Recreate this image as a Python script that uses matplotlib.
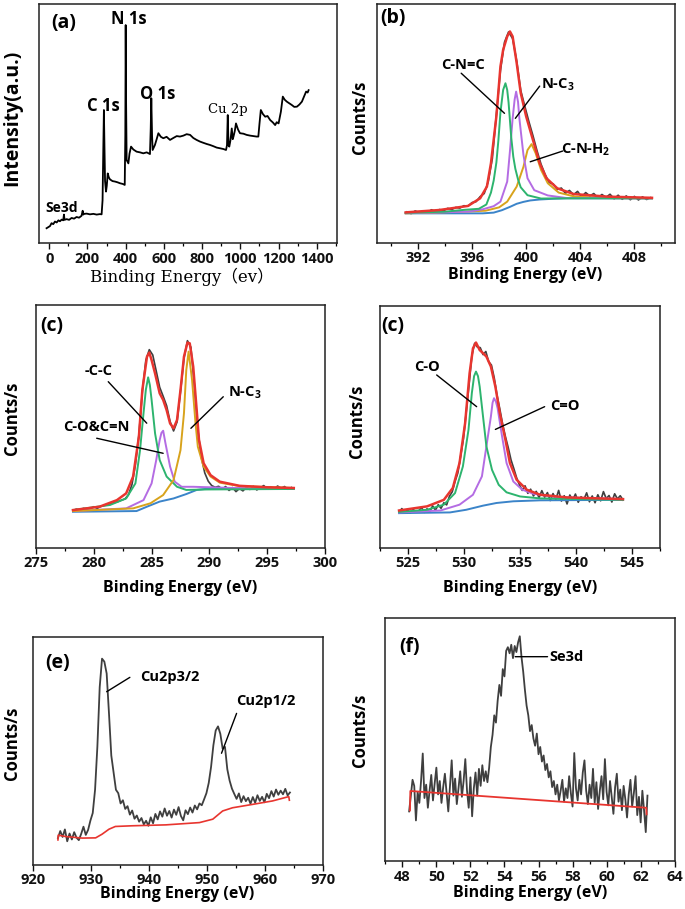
import numpy as np
import matplotlib
matplotlib.use('Agg')
import matplotlib.pyplot as plt
from matplotlib.ticker import MultipleLocator

plt.rcParams['font.family'] = ['Open Sans', 'DejaVu Sans']
plt.rcParams['font.weight'] = 'bold'
plt.rcParams['mathtext.fontset'] = 'custom'
plt.rcParams['mathtext.bf'] = 'Open Sans:bold'
plt.rcParams['mathtext.rm'] = 'Open Sans:bold'
plt.rcParams['mathtext.default'] = 'bf'

# ---------------- (a) survey spectrum ----------------
survey_ev = [-14, 4, 12, 21, 30, 39, 48, 56, 65, 73, 77, 80, 91, 104, 117, 130, 143, 156, 169, 175,
             178, 182, 196, 213, 231, 248, 265, 274, 279, 283, 286, 289, 292, 297, 301, 306, 312, 318,
             331, 344, 357, 370, 385, 395, 398, 400, 402, 405, 414, 420, 428, 440, 457, 475, 492, 510,
             527, 531, 534, 538, 541, 553, 562, 571, 584, 597, 614, 632, 649, 667, 684, 702, 719, 737,
             754, 771, 789, 806, 824, 841, 858, 876, 894, 911, 925, 930, 934, 938, 942, 948, 955, 960,
             964, 971, 977, 988, 998, 1016, 1033, 1051, 1068, 1085, 1094, 1100, 1107, 1118, 1130, 1142,
             1156, 1170, 1182, 1190, 1200, 1212, 1222, 1232, 1243, 1256, 1269, 1282, 1296, 1309, 1322,
             1334, 1344, 1352, 1357]
survey_int = [6.3, 7.2, 8.4, 8.0, 9.1, 8.7, 9.6, 9.2, 9.9, 9.6, 12.0, 9.8, 10.1, 9.8, 10.6, 10.3, 11.0,
              10.7, 11.5, 13.6, 12.0, 12.3, 12.4, 12.1, 12.3, 12.0, 12.2, 12.1, 18.0, 40.0, 55.7, 40.0,
              26.0, 21.6, 24.0, 29.2, 27.5, 26.7, 26.0, 25.8, 25.5, 25.1, 24.8, 24.4, 45.0, 91.2, 60.0,
              34.8, 33.4, 37.5, 40.4, 39.2, 38.3, 38.0, 37.6, 38.0, 37.3, 48.0, 60.6, 45.0, 39.0, 41.1,
              43.5, 46.0, 44.5, 43.9, 44.5, 43.2, 44.0, 44.8, 44.6, 45.0, 45.6, 45.3, 44.0, 43.2, 42.5,
              42.0, 41.5, 41.1, 40.6, 40.0, 39.7, 39.4, 39.0, 41.0, 53.6, 41.0, 40.4, 43.0, 48.0, 43.5,
              44.6, 47.0, 50.1, 47.5, 46.0, 45.8, 45.3, 45.0, 44.8, 44.6, 44.6, 50.0, 55.7, 54.0, 52.9,
              53.2, 51.5, 50.5, 49.4, 50.6, 50.1, 55.0, 61.3, 60.0, 59.2, 58.5, 57.8, 57.0, 57.1, 58.0,
              59.2, 61.5, 63.4, 63.0, 64.0]

# ---------------- (b) N 1s ----------------
n1s_raw = [12.9, 12.2, 13.3, 12.6, 13.0, 12.5, 13.8, 13.1, 13.9, 13.4, 14.4, 13.9, 14.8, 14.5, 15.5,
           15.3, 16.8, 17.2, 19.3, 20.6, 25.6, 35.2, 53.8, 72.1, 84.0, 88.3, 85.5, 76.2, 63.8, 57.2,
           50.8, 44.9, 38.6, 32.9, 28.6, 25.2, 24.6, 22.3, 22.9, 20.7, 21.9, 20.1, 21.5, 19.2, 21.0,
           19.6, 20.6, 18.8, 20.2, 19.0, 20.3, 18.4, 19.9, 18.2, 19.6, 18.0, 19.4, 17.9, 19.2, 18.1, 18.9]
n1s_raw_ev = np.linspace(391.2, 409.2, len(n1s_raw))
n1s_env_ev = [391.1, 393.6, 395.7, 396.6, 397.1, 397.4, 397.8, 398.1, 398.3, 398.6, 398.8, 399.0,
              399.3, 399.6, 400.0, 400.5, 401.0, 401.5, 402.3, 403.5, 406.0, 409.3]
n1s_env = [12.7, 13.7, 15.4, 18.6, 23.5, 33.3, 52.9, 73.8, 80.8, 86.4, 88.5, 86.4, 75.3, 62.7, 52.9,
           43.1, 33.3, 27.0, 22.8, 20.4, 19.3, 18.8]
n1s_bg_ev = [391.1, 396.8, 397.6, 398.2, 398.8, 399.3, 399.8, 400.3, 401.0, 402.0, 403.0, 405.0, 409.3]
n1s_bg = [12.3, 12.3, 12.6, 13.6, 15.0, 16.3, 17.1, 17.7, 18.1, 18.4, 18.6, 18.6, 18.6]
cnc_ev = [391.1, 394.0, 395.5, 396.5, 397.06, 397.4, 397.6, 397.8, 397.95, 398.1, 398.3, 398.47,
          398.6, 398.7, 398.9, 399.05, 399.2, 399.4, 399.6, 400.1, 401.1, 403.0, 409.3]
cnc = [12.5, 13.0, 13.8, 14.2, 16.0, 21.0, 26.0, 33.6, 43.0, 54.6, 64.0, 66.8, 64.0, 58.8, 44.0, 36.0,
       31.0, 26.5, 23.2, 19.9, 18.5, 18.6, 18.6]
nc3_ev = [391.1, 395.7, 396.8, 397.6, 398.1, 398.6, 398.8, 399.0, 399.15, 399.26, 399.4, 399.5,
          399.8, 400.1, 400.6, 401.6, 403.0, 409.3]
nc3 = [12.4, 13.0, 14.0, 15.3, 17.2, 25.6, 38.2, 52.0, 60.0, 63.3, 59.0, 52.0, 36.8, 27.0, 22.0,
       19.8, 18.7, 18.6]
cnh2_ev = [391.1, 394.9, 397.0, 398.0, 398.6, 399.3, 399.8, 400.1, 400.4, 400.7, 401.1, 401.6, 402.4,
           403.6, 406.1, 409.3]
cnh2 = [12.3, 12.9, 13.4, 14.8, 17.2, 23.5, 31.8, 38.8, 41.3, 37.5, 30.5, 24.9, 21.0, 19.3, 18.7, 18.6]

# ---------------- (c) C 1s ----------------
c1s_raw = [15.2, 15.9, 15.3, 16.2, 15.8, 16.1, 16.9, 16.2, 17.0, 17.4, 17.6, 18.4, 18.6, 19.0, 19.6,
           20.1, 21.8, 26.0, 34.2, 46.5, 64.3, 77.2, 81.6, 79.4, 72.8, 66.1, 62.4, 58.5, 52.0, 48.1,
           51.8, 64.2, 78.0, 85.3, 82.6, 67.1, 48.7, 37.2, 30.8, 27.4, 25.6, 24.9, 25.3, 24.1, 25.2,
           23.6, 24.8, 23.1, 24.4, 23.4, 24.9, 24.0, 25.3, 23.8, 24.7, 25.6, 24.2, 25.1, 24.3, 25.4,
           24.5, 25.2, 24.1, 24.8]
c1s_raw_ev = np.linspace(278.2, 297.1, len(c1s_raw))
c1s_env_ev = [278.2, 280.5, 282.0, 282.8, 283.4, 283.9, 284.2, 284.6, 284.8, 285.0, 285.3, 285.7,
              286.0, 286.3, 286.6, 286.9, 287.2, 287.5, 287.8, 288.1, 288.3, 288.6, 288.9, 289.1,
              289.5, 290.1, 290.9, 292.6, 295.0, 297.3]
c1s_env = [15.5, 16.9, 19.6, 22.4, 29.3, 45.7, 65.0, 78.7, 80.4, 77.3, 71.8, 63.6, 60.9, 56.7, 51.2,
           49.2, 52.6, 65.0, 78.7, 84.5, 84.2, 74.6, 56.7, 44.4, 34.8, 29.9, 27.2, 25.5, 24.9, 24.6]
c1s_bg_ev = [278.2, 283.7, 284.6, 285.7, 286.9, 288.0, 288.9, 289.8, 292.1, 297.3]
c1s_bg = [14.8, 15.1, 16.9, 19.0, 20.3, 22.1, 23.8, 24.3, 24.3, 24.2]
cc_ev = [278.2, 281.4, 282.8, 283.6, 284.0, 284.3, 284.5, 284.7, 284.85, 285.0, 285.3, 285.7, 286.3,
         287.2, 288.0, 289.8, 297.3]
cc = [15.5, 17.6, 20.3, 26.5, 40.2, 55.4, 65.0, 70.2, 67.0, 60.9, 47.1, 36.1, 29.3, 25.1, 23.8, 24.0,
      24.2]
co_cn_ev = [278.2, 282.8, 284.3, 285.0, 285.4, 285.7, 285.85, 286.0, 286.2, 286.6, 287.0, 287.6,
            288.6, 292.1, 297.3]
co_cn = [15.1, 16.2, 19.6, 26.5, 36.1, 44.4, 47.3, 48.2, 43.0, 33.4, 27.2, 25.1, 25.1, 24.6, 24.3]
c_nc3_ev = [278.2, 283.4, 284.9, 286.0, 286.9, 287.5, 287.8, 288.0, 288.2, 288.5, 288.8, 289.0,
            289.5, 290.1, 290.9, 292.6, 297.3]
c_nc3 = [15.1, 16.2, 18.3, 21.7, 27.9, 40.2, 55.4, 73.2, 80.8, 69.1, 51.2, 41.6, 33.4, 29.3, 26.8,
         25.4, 24.6]

# ---------------- (d) O 1s ----------------
o1s_raw = [14.8, 16.3, 14.6, 15.9, 14.4, 16.0, 14.9, 15.3, 16.8, 14.7, 16.2, 15.1, 17.4, 15.6, 17.9,
           16.4, 18.7, 17.8, 21.4, 23.2, 27.5, 31.0, 37.9, 45.1, 56.2, 67.3, 79.4, 84.6, 83.0, 82.8,
           79.9, 81.2, 77.0, 75.6, 70.3, 63.1, 57.4, 51.2, 46.0, 41.5, 36.4, 32.8, 29.0, 26.1, 23.8,
           25.7, 22.6, 24.3, 21.5, 23.4, 20.8, 23.7, 21.0, 22.9, 19.6, 22.5, 20.1, 23.8, 19.4, 21.6,
           18.2, 21.9, 19.8, 22.3, 18.9, 21.2, 20.0, 22.8, 19.1, 21.5, 18.7, 22.0, 19.5, 23.3, 20.4,
           21.7, 19.0, 22.4, 20.3, 21.6, 19.8]
o1s_raw_ev = np.linspace(524.2, 544.2, len(o1s_raw))
o1s_env_ev = [524.2, 526.7, 528.2, 529.0, 529.6, 530.1, 530.5, 530.8, 531.07, 531.4, 531.7, 532.0,
              532.4, 532.8, 533.2, 533.7, 534.1, 534.7, 535.6, 536.8, 539.2, 544.2]
o1s_env = [15.5, 17.2, 19.9, 24.8, 35.1, 51.6, 72.2, 82.5, 84.9, 81.8, 80.5, 79.1, 75.0, 66.7, 55.7,
           44.7, 35.1, 28.2, 24.1, 22.0, 20.9, 20.2]
o1s_bg_ev = [524.2, 528.75, 530.2, 531.7, 532.9, 534.4, 536.8, 544.2]
o1s_bg = [14.4, 14.7, 15.8, 17.5, 18.6, 19.3, 19.7, 19.9]
c_o_ev = [524.2, 526.7, 528.2, 529.2, 529.9, 530.4, 530.7, 530.9, 531.07, 531.25, 531.4, 531.7,
          532.0, 532.5, 533.1, 533.8, 535.0, 536.8, 544.2]
c_o = [14.9, 15.8, 17.9, 22.7, 33.7, 48.8, 64.0, 71.0, 72.9, 71.0, 66.7, 54.3, 42.0, 32.3, 26.1,
       23.0, 21.3, 20.5, 19.9]
c_do_ev = [524.2, 527.9, 529.6, 530.8, 531.6, 532.0, 532.4, 532.55, 532.68, 532.85, 533.0, 533.4,
           533.8, 534.4, 535.2, 536.2, 538.3, 544.2]
c_do = [14.7, 15.5, 17.9, 22.0, 29.6, 42.0, 54.3, 60.0, 61.9, 60.5, 57.8, 46.1, 35.1, 27.5, 24.1,
        22.4, 21.0, 20.2]

# ---------------- (e) Cu 2p ----------------
cu_raw = [11.8, 14.9, 12.3, 15.6, 10.4, 13.8, 11.2, 14.4, 12.0, 10.9, 13.6, 16.8, 13.2, 15.4, 19.5,
          22.8, 33.0, 52.0, 78.0, 90.5, 89.2, 84.0, 66.5, 48.0, 40.5, 33.0, 31.5, 27.0, 28.4, 24.6,
          25.8, 22.1, 23.9, 20.3, 21.7, 19.0, 20.6, 17.8, 19.4, 17.2, 20.9, 18.3, 22.4, 20.0, 23.5,
          21.2, 24.8, 21.6, 23.7, 20.8, 24.3, 22.0, 25.4, 21.5, 19.6, 24.0, 22.3, 25.2, 23.0, 26.1,
          24.4, 27.0, 26.2, 28.8, 31.5, 36.0, 43.0, 52.5, 59.0, 60.8, 57.5, 51.0, 51.8, 42.0, 37.0,
          33.5, 31.2, 29.0, 31.4, 27.6, 30.2, 28.0, 29.5, 26.9, 29.8, 27.3, 30.6, 28.1, 29.9, 27.5,
          31.2, 29.3, 32.4, 30.0, 33.1, 30.8, 32.6, 31.0, 33.4, 30.5, 31.8]
cu_raw_ev = np.linspace(924.3, 964.3, len(cu_raw))
cu_bg_ev = [924.3, 924.35, 925.6, 928.5, 930.8, 931.9, 933.1, 934.2, 937.1, 942.9, 948.7, 951.0,
            952.7, 954.4, 957.9, 961.3, 964.1, 964.2]
cu_bg = [11.0, 13.1, 12.5, 11.8, 11.9, 13.5, 15.7, 16.9, 17.2, 17.6, 18.6, 20.1, 23.7, 25.1, 26.6,
         28.1, 30.0, 28.4]

# ---------------- (f) Se 3d ----------------
se_raw = [20.5, 27.0, 33.5, 31.0, 16.8, 28.5, 24.0, 33.0, 44.3, 26.0, 31.5, 22.0, 29.0, 35.5, 25.0,
          32.0, 38.5, 27.5, 33.0, 24.0, 30.5, 36.0, 28.0, 20.5, 31.0, 41.5, 27.0, 34.0, 23.5, 30.0,
          37.0, 26.5, 33.0, 42.0, 29.0, 22.0, 34.5, 18.5, 30.0, 36.5, 27.0, 38.0, 31.0, 39.5, 33.0,
          37.0, 32.5, 38.5, 47.0, 52.0, 60.0, 57.0, 66.0, 72.5, 68.0, 79.0, 76.0, 86.5, 88.0, 85.5,
          89.0, 83.5, 88.5, 86.0, 90.0, 92.5, 84.0, 78.0, 70.5, 64.0, 60.0, 53.5, 56.0, 50.5, 47.5,
          52.5, 44.0, 47.0, 41.0, 43.5, 37.5, 40.0, 34.5, 37.0, 30.5, 33.0, 27.5, 31.5, 25.0, 29.0,
          33.5, 24.5, 30.0, 26.0, 35.0, 28.0, 22.5, 44.5, 30.0, 25.0, 33.5, 27.5, 36.5, 41.5, 29.0,
          23.5, 31.5, 26.0, 38.0, 24.0, 32.5, 21.5, 29.0, 35.0, 25.5, 42.0, 28.5, 23.0, 33.0, 26.5,
          19.5, 30.5, 36.0, 24.5, 29.5, 21.0, 31.0, 25.5, 18.0, 27.5, 33.5, 22.5, 28.0, 35.0, 19.0,
          26.5, 16.0, 29.0, 21.0, 12.0, 27.0]
se_raw_ev = np.linspace(48.4, 62.4, len(se_raw))
se_bg_ev = [48.45, 48.47, 62.33, 62.35]
se_bg = [20.9, 28.9, 22.0, 19.3]

GRAY = '#3f3f3f'
RED = '#e8352f'
GREEN = '#2db46e'
PURPLE = '#b46ce3'
ORANGE = '#d8a31c'
BLUE = '#3b84c9'

W, H = 685, 909
fig = plt.figure(figsize=(W / 100, H / 100), dpi=100)


def px_axes(l, t, r, b):
    return fig.add_axes([l / W, 1 - b / H, (r - l) / W, (b - t) / H])


def style(ax, xlim, major, minor):
    ax.set_xlim(*xlim)
    ax.set_ylim(0, 100)
    ax.set_yticks([])
    ax.xaxis.set_major_locator(MultipleLocator(major))
    ax.xaxis.set_minor_locator(MultipleLocator(minor))
    ax.tick_params(axis='x', which='major', direction='out', length=4, width=1.0, pad=2.0,
                   labelsize=10.5, colors='#111111')
    ax.tick_params(axis='x', which='minor', direction='out', length=2.4, width=0.9)
    for s in ax.spines.values():
        s.set_linewidth(1.1)
        s.set_color('#222222')


def ftext(x, y, s, **kw):
    fig.text(x / W, 1 - y / H, s, ha='center', va='center', **kw)


def leader(ax, p0, p1):
    ax.annotate('', xy=p1, xytext=p0, arrowprops=dict(arrowstyle='-', lw=1.0, color='k',
                                                      shrinkA=0, shrinkB=0))


# (a)
ax_a = px_axes(39.3, 4, 336.7, 243.3)
style(ax_a, (-52, 1504), 200, 100)
ax_a.plot(survey_ev, survey_int, color='k', lw=1.3)
ax_a.text(0.083, 0.92, '(a)', transform=ax_a.transAxes, fontsize=14, ha='center', va='center')
ax_a.text(417, 93.6, 'N 1s', fontsize=12, ha='center', va='center')
ax_a.text(281, 57.4, 'C 1s', fontsize=12, ha='center', va='center')
ax_a.text(566, 62.4, 'O 1s', fontsize=12, ha='center', va='center')
ax_a.text(936, 56, 'Cu 2p', fontsize=9.5, ha='center', va='center', family='DejaVu Serif',
          weight='normal')
ax_a.text(65, 14.8, 'Se3d', fontsize=10, ha='center', va='center')
ftext(12.7, 118, 'Intensity(a.u.)', rotation=90, fontsize=14)
ftext(182, 277, 'Binding Energy（ev）', fontsize=12, weight='normal',
      family=['DejaVu Serif', 'Noto Sans CJK SC'])

# (b)
ax_b = px_axes(377.3, 4, 675, 242.7)
style(ax_b, (389, 411), 4, 2)
ax_b.plot(n1s_raw_ev, n1s_raw, color=GRAY, lw=1.2)
ax_b.plot(n1s_bg_ev, n1s_bg, color=BLUE, lw=1.4)
ax_b.plot(cnh2_ev, cnh2, color=ORANGE, lw=1.4)
ax_b.plot(nc3_ev, nc3, color=PURPLE, lw=1.4)
ax_b.plot(cnc_ev, cnc, color=GREEN, lw=1.4)
ax_b.plot(n1s_env_ev, n1s_env, color=RED, lw=1.8)
ax_b.text(0.054, 0.94, '(b)', transform=ax_b.transAxes, fontsize=14, ha='center', va='center')
ax_b.text(395.3, 74.4, 'C-N=C', fontsize=10.5, ha='center', va='center')
leader(ax_b, (395.2, 71.0), (398.4, 54.2))
ax_b.text(401.1, 66.0, 'N-C$_3$', fontsize=10.5, ha='left', va='center')
leader(ax_b, (401.0, 65.6), (399.2, 52.1))
ax_b.text(402.6, 38.8, 'C-N-H$_2$', fontsize=10.5, ha='left', va='center')
leader(ax_b, (402.7, 38.4), (400.3, 33.9))
ftext(360, 117, 'Counts/s', rotation=90, fontsize=12)
ftext(525, 275, 'Binding Energy (eV)', fontsize=11.5)

# (c)
ax_c = px_axes(36, 305, 325, 547.7)
style(ax_c, (275, 300), 5, 2.5)
ax_c.plot(c1s_raw_ev, c1s_raw, color=GRAY, lw=1.2)
ax_c.plot(c1s_bg_ev, c1s_bg, color=BLUE, lw=1.4)
ax_c.plot(co_cn_ev, co_cn, color=PURPLE, lw=1.4)
ax_c.plot(cc_ev, cc, color=GREEN, lw=1.4)
ax_c.plot(c_nc3_ev, c_nc3, color=ORANGE, lw=1.4)
ax_c.plot(c1s_env_ev, c1s_env, color=RED, lw=1.8)
ax_c.text(0.055, 0.913, '(c)', transform=ax_c.transAxes, fontsize=14, ha='center', va='center')
ax_c.text(280.4, 72.8, '-C-C', fontsize=10.5, ha='center', va='center')
leader(ax_c, (281.25, 68.4), (284.58, 51.3))
ax_c.text(280.25, 49.7, 'C-O&C=N', fontsize=10.5, ha='center', va='center')
leader(ax_c, (280.25, 45.1), (286.0, 38.9))
ax_c.text(291.6, 63.7, 'N-C$_3$', fontsize=10.5, ha='left', va='center')
leader(ax_c, (291.2, 62.2), (288.4, 49.2))
ftext(12, 418, 'Counts/s', rotation=90, fontsize=12)
ftext(180, 588, 'Binding Energy (eV)', fontsize=11.5)

# (d)
ax_d = px_axes(380, 306, 660, 548)
style(ax_d, (522.5, 547.5), 5, 2.5)
ax_d.plot(o1s_raw_ev, o1s_raw, color=GRAY, lw=1.2)
ax_d.plot(o1s_bg_ev, o1s_bg, color=BLUE, lw=1.4)
ax_d.plot(c_do_ev, c_do, color=PURPLE, lw=1.4)
ax_d.plot(c_o_ev, c_o, color=GREEN, lw=1.4)
ax_d.plot(o1s_env_ev, o1s_env, color=RED, lw=1.8)
ax_d.text(0.046, 0.917, '(c)', transform=ax_d.transAxes, fontsize=14, ha='center', va='center')
ax_d.text(526.67, 74.6, 'C-O', fontsize=10.5, ha='center', va='center')
leader(ax_d, (527.56, 71.5), (531.13, 58.4))
ax_d.text(537.7, 58.7, 'C=O', fontsize=10.5, ha='left', va='center')
leader(ax_d, (537.2, 58.4), (532.8, 49.0))
ftext(356.7, 421.7, 'Counts/s', rotation=90, fontsize=12)
ftext(520, 588, 'Binding Energy (eV)', fontsize=11.5)

# (e)
ax_e = px_axes(33, 637, 323, 865)
style(ax_e, (920, 970), 10, 5)
ax_e.plot(cu_raw_ev, cu_raw, color=GRAY, lw=1.3)
ax_e.plot(cu_bg_ev, cu_bg, color=RED, lw=1.2)
ax_e.text(0.084, 0.888, '(e)', transform=ax_e.transAxes, fontsize=14, ha='center', va='center')
ax_e.text(938.4, 82.5, 'Cu2p3/2', fontsize=10.5, ha='left', va='center')
leader(ax_e, (936.7, 82.3), (932.7, 76.0))
ax_e.text(955.1, 71.9, 'Cu2p1/2', fontsize=10.5, ha='left', va='center')
leader(ax_e, (955.1, 66.5), (952.5, 49.0))
ftext(11.7, 743, 'Counts/s', rotation=90, fontsize=12)
ftext(176.7, 894, 'Binding Energy (eV)', fontsize=11.5)

# (f)
ax_f = px_axes(385.3, 618, 674.7, 861.3)
style(ax_f, (47, 64), 2, 1)
ax_f.plot(se_raw_ev, se_raw, color=GRAY, lw=1.3)
ax_f.plot(se_bg_ev, se_bg, color=RED, lw=1.3)
ax_f.text(0.082, 0.879, '(f)', transform=ax_f.transAxes, fontsize=14, ha='center', va='center')
ax_f.text(56.65, 84.0, 'Se3d', fontsize=10.5, ha='left', va='center')
leader(ax_f, (56.53, 84.1), (54.63, 84.1))
ftext(360, 730, 'Counts/s', rotation=90, fontsize=12)
ftext(530, 893, 'Binding Energy (eV)', fontsize=11.5)

fig.savefig('out.png', dpi=100)
